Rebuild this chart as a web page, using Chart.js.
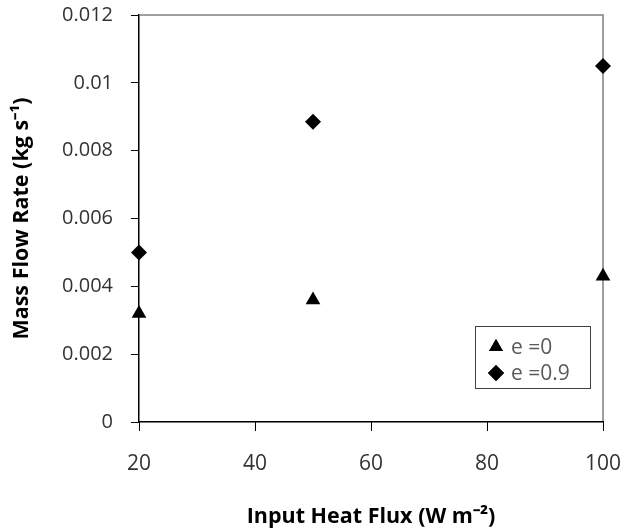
<!DOCTYPE html>
<html>
<head>
<meta charset="utf-8">
<script src="https://cdn.jsdelivr.net/npm/chart.js@4.4.1/dist/chart.umd.min.js"></script>
<style>
  html, body { margin: 0; padding: 0; background: #fff; }
  #wrap { width: 625px; height: 532px; }
</style>
</head>
<body>
<div id="wrap"><canvas id="c" width="625" height="532"></canvas></div>
<script>
// ---- data ----
const heatFlux = [20, 50, 100];
const flowE0 = [0.0032, 0.0036, 0.0043];
const flowE09 = [0.0050, 0.00885, 0.0105];
const seriesLabels = ['e =0', 'e =0.9'];
const xTickLabels = ['20', '40', '60', '80', '100'];
const yTickLabels = ['0', '0.002', '0.004', '0.006', '0.008', '0.01', '0.012'];
const xTitle = 'Input Heat Flux (W m\u207B\u00B2)';
const yTitle = 'Mass Flow Rate (kg s\u207B\u00B9)';

const FONT = "'Open Sans', 'Liberation Sans', sans-serif";

function toPoints(xs, ys) { return xs.map((x, i) => ({ x: x, y: ys[i] })); }

function drawMarker(ctx, style, x, y, r) {
  if (Chart.helpers && Chart.helpers.drawPoint) {
    Chart.helpers.drawPoint(ctx, { pointStyle: style, radius: r, borderWidth: 0, rotation: 0 }, x, y);
    ctx.fill();
    return;
  }
  ctx.beginPath();
  if (style === 'triangle') {
    ctx.moveTo(x, y - r);
    ctx.lineTo(x + r * 0.866, y + r / 2);
    ctx.lineTo(x - r * 0.866, y + r / 2);
  } else {
    ctx.moveTo(x, y - r); ctx.lineTo(x + r, y); ctx.lineTo(x, y + r); ctx.lineTo(x - r, y);
  }
  ctx.closePath();
  ctx.fill();
}

const framePlugin = {
  id: 'frame',
  beforeDraw(chart) {
    const a = chart.chartArea, ctx = chart.ctx;
    ctx.save();
    ctx.fillStyle = '#fff';
    ctx.fillRect(0, 0, chart.width, chart.height);
    ctx.strokeStyle = '#7f7f7f';
    ctx.lineWidth = 1.5;
    ctx.strokeRect(a.left, a.top, a.right - a.left, a.bottom - a.top);
    ctx.restore();
  }
};

const legendPlugin = {
  id: 'boxLegend',
  afterDraw(chart) {
    const a = chart.chartArea, ctx = chart.ctx;
    const bx = a.right - 128, by = a.bottom - 96, bw = 115, bh = 62;
    ctx.save();
    ctx.fillStyle = '#fff';
    ctx.fillRect(bx, by, bw, bh);
    ctx.strokeStyle = '#404040';
    ctx.lineWidth = 1;
    ctx.strokeRect(bx + 0.5, by + 0.5, bw, bh);
    chart.data.datasets.forEach((ds, i) => {
      const cy = by + 21 + i * 26;
      ctx.fillStyle = '#000';
      drawMarker(ctx, ds.pointStyle, bx + 21, cy, 8);
      ctx.fillStyle = '#595959';
      ctx.font = "21px " + FONT;
      ctx.textBaseline = 'middle';
      ctx.textAlign = 'left';
      ctx.fillText(ds.label, bx + 36, cy + 1);
    });
    ctx.restore();
  }
};

new Chart(document.getElementById('c'), {
  type: 'scatter',
  data: {
    datasets: [
      {
        label: seriesLabels[0],
        data: toPoints(heatFlux, flowE0),
        pointStyle: 'triangle',
        pointRadius: 8.5,
        pointHoverRadius: 8.5,
        backgroundColor: '#000',
        borderColor: '#000',
        borderWidth: 0,
        clip: false
      },
      {
        label: seriesLabels[1],
        data: toPoints(heatFlux, flowE09),
        pointStyle: 'rectRot',
        pointRadius: 8,
        pointHoverRadius: 8,
        backgroundColor: '#000',
        borderColor: '#000',
        borderWidth: 0,
        clip: false
      }
    ]
  },
  options: {
    responsive: false,
    animation: false,
    events: [],
    layout: { padding: { left: 0, top: 15, right: 22, bottom: 0 } },
    plugins: { legend: { display: false }, tooltip: { enabled: false } },
    scales: {
      x: {
        type: 'linear',
        min: 20, max: 100,
        afterFit(s) { s.height = 110; s.paddingLeft = 0; s.paddingRight = 0; },
        afterBuildTicks(s) { s.ticks = xTickLabels.map(t => ({ value: Number(t) })); },
        ticks: {
          color: '#333',
          font: { family: FONT, size: 21 },
          padding: 20,
          callback: (v, i) => xTickLabels[i]
        },
        grid: { display: true, drawOnChartArea: false, drawTicks: true, tickLength: 9, color: '#000', lineWidth: 1 },
        border: { display: true, color: '#000', width: 1.2 },
        title: {
          display: true, text: xTitle, color: '#000',
          font: { family: FONT, size: 21.5, weight: 'bold' },
          padding: { top: 0, bottom: 2 }
        }
      },
      y: {
        type: 'linear',
        min: 0, max: 0.012,
        afterFit(s) { s.width = 139; s.paddingTop = 0; s.paddingBottom = 0; },
        afterBuildTicks(s) { s.ticks = yTickLabels.map(t => ({ value: Number(t) })); },
        ticks: {
          color: '#333',
          font: { family: FONT, size: 20 },
          padding: 18,
          callback: (v, i) => yTickLabels[i]
        },
        grid: { display: true, drawOnChartArea: false, drawTicks: true, tickLength: 8, color: '#000', lineWidth: 1 },
        border: { display: true, color: '#000', width: 1.2 },
        title: {
          display: true, text: yTitle, color: '#000',
          font: { family: FONT, size: 21.5, weight: 'bold' },
          padding: { top: 9, bottom: 0 }
        }
      }
    }
  },
  plugins: [framePlugin, legendPlugin]
});
</script>
</body>
</html>
